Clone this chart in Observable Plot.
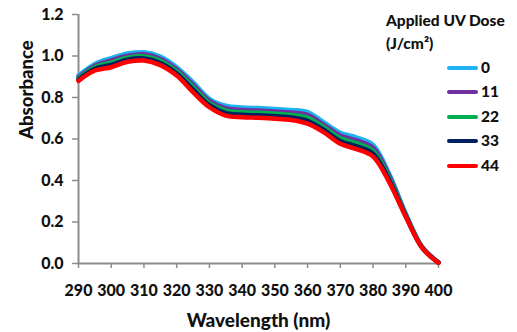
<!DOCTYPE html>
<html>
<head>
<meta charset="utf-8">
<script src="https://cdn.jsdelivr.net/npm/d3@7"></script>
<script src="https://cdn.jsdelivr.net/npm/@observablehq/plot@0.6"></script>
<style>
  html, body { margin: 0; padding: 0; background: #fff; }
  #wrap { position: relative; width: 517px; height: 332px; font-family: Lato, "Open Sans", sans-serif; }
  #legend { position: absolute; left: 386px; top: 9px; font-weight: 900; color: #111; }
  #legend .title { font-size: 15.5px; line-height: 23px; white-space: nowrap; }
  #legend .item { position: absolute; left: 61px; height: 16px; width: 60px; }
  #legend .swatch { position: absolute; left: 0; top: 7px; width: 31px; height: 4px; border-radius: 2px; }
  #legend .lab { position: absolute; left: 34px; top: -1px; font-size: 15.5px; }
</style>
</head>
<body>
<div id="wrap"></div>
<script>
const wavelengths = [290,295,300,305,310,315,320,325,330,335,340,345,350,355,360,365,370,375,380,385,390,395,400];
const doses = ["0","11","22","33","44"];
const colors = ["#1eb4ef","#7030a0","#00b050","#002060","#ff0000"];
const dose0  = [0.906,0.962,0.990,1.012,1.018,0.997,0.946,0.874,0.794,0.761,0.752,0.749,0.745,0.740,0.730,0.680,0.630,0.607,0.572,0.430,0.240,0.080,0.005];
const dose11 = [0.898,0.953,0.979,1.001,1.008,0.987,0.936,0.862,0.784,0.749,0.740,0.737,0.733,0.728,0.716,0.668,0.617,0.593,0.558,0.420,0.236,0.079,0.005];
const dose22 = [0.892,0.946,0.968,0.992,0.998,0.977,0.926,0.850,0.773,0.737,0.729,0.726,0.722,0.716,0.702,0.656,0.603,0.579,0.543,0.410,0.232,0.078,0.004];
const dose33 = [0.886,0.938,0.957,0.982,0.988,0.966,0.916,0.838,0.763,0.725,0.717,0.714,0.710,0.704,0.688,0.644,0.590,0.565,0.529,0.400,0.228,0.076,0.004];
const dose44 = [0.880,0.930,0.946,0.972,0.978,0.956,0.906,0.826,0.753,0.713,0.705,0.702,0.698,0.692,0.674,0.632,0.577,0.551,0.515,0.390,0.225,0.075,0.003];
const series = [dose0, dose11, dose22, dose33, dose44];
const xTicks = [290,300,310,320,330,340,350,360,370,380,390,400];
const yTicks = [0,0.2,0.4,0.6,0.8,1.0,1.2];

const rows = [];
series.forEach((vals, i) => vals.forEach((v, j) => rows.push({dose: doses[i], wl: wavelengths[j], a: v})));

const axisGrey = "#8c8c8c";
const chart = Plot.plot({
  width: 517,
  height: 332,
  marginLeft: 78,
  marginRight: 79,
  marginTop: 14,
  marginBottom: 69,
  style: { fontFamily: "Lato, 'Open Sans', sans-serif", fontWeight: "900", color: "#111", background: "#fff" },
  x: { domain: [290, 400] },
  y: { domain: [0, 1.2] },
  color: { domain: doses, range: colors },
  marks: [
    Plot.ruleY([0], { stroke: axisGrey, strokeWidth: 2 }),
    Plot.ruleX([290], { stroke: axisGrey, strokeWidth: 2 }),
    Plot.axisX({ ticks: xTicks, tickSize: 5, tickPadding: 16, stroke: axisGrey, strokeWidth: 1.5, fontSize: 16, fill: "#111", label: null }),
    Plot.axisY({ ticks: yTicks, tickSize: 6, tickPadding: 9, stroke: axisGrey, strokeWidth: 1.5, fontSize: 16, fill: "#111", label: null, tickFormat: d => d.toFixed(1) }),
    Plot.line(rows, { x: "wl", y: "a", z: "dose", stroke: "dose", strokeWidth: 4.5, curve: "catmull-rom" }),
    Plot.text(["Wavelength (nm)"], { frameAnchor: "bottom", dy: 63, fontSize: 19, fill: "#111", text: d => d }),
    Plot.text(["Absorbance"], { frameAnchor: "left", dx: -51, rotate: -90, fontSize: 18.5, fill: "#111", text: d => d })
  ]
});
const wrap = document.getElementById("wrap");
wrap.appendChild(chart);

const legend = document.createElement("div");
legend.id = "legend";
let html = '<div class="title">Applied UV Dose</div><div class="title">(J/cm\u00B2)</div>';
const itemY = [50, 74, 99, 123, 148];
doses.forEach((d, i) => {
  html += `<div class="item" style="top:${itemY[i]}px"><div class="swatch" style="background:${colors[i]}"></div><div class="lab">${d}</div></div>`;
});
legend.innerHTML = html;
wrap.appendChild(legend);
</script>
</body>
</html>
